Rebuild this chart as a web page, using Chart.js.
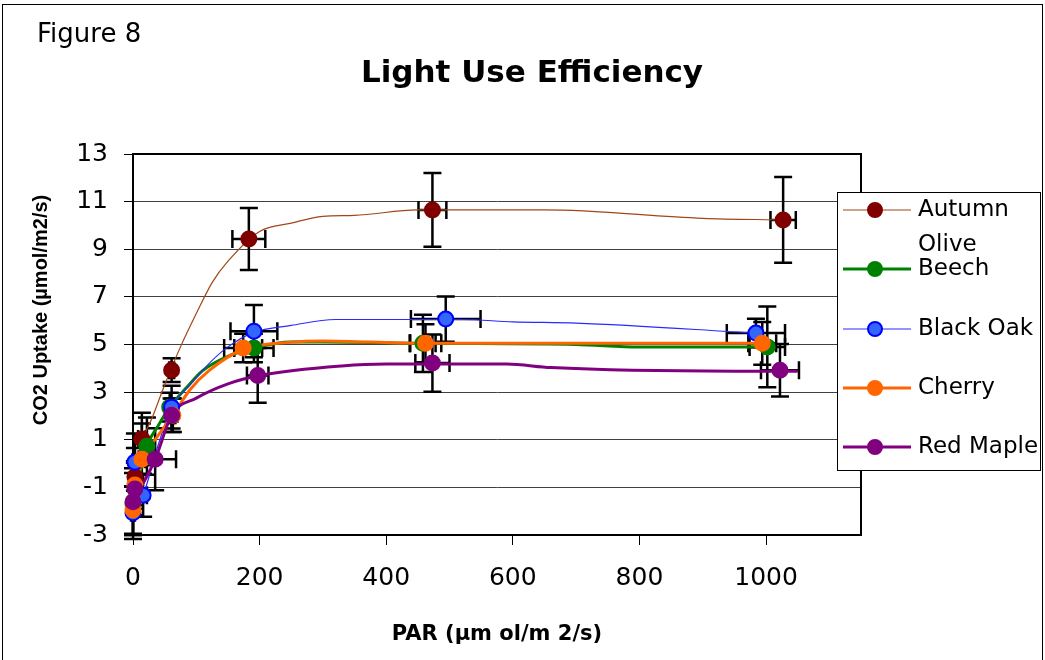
<!DOCTYPE html>
<html>
<head>
<meta charset="utf-8">
<script src="https://cdn.jsdelivr.net/npm/chart.js@4.4.1/dist/chart.umd.min.js"></script>
<style>
  html, body { margin: 0; padding: 0; background: #fff; }
  canvas { display: block; }
</style>
</head>
<body>
<canvas id="lueChart" width="1045" height="660"></canvas>
<script>
// tick values
const parTicks = [0, 200, 400, 600, 800, 1000];
const co2Ticks = [-3, -1, 1, 3, 5, 7, 9, 11, 13];

// measured points (PAR, CO2 uptake) and their error bars
const autumnPar    = [3, 14, 61, 183, 473, 1027];
const autumnCo2    = [-0.55, 1.03, 3.92, 9.43, 10.65, 10.23];
const autumnParErr = [3, 6, 4, 26, 22, 20];
const autumnCo2Err = [1.2, 1.1, 0.5, 1.3, 1.55, 1.8];

const beechPar    = [0, 22, 58, 191, 458, 1002];
const beechCo2    = [-1.7, 0.73, 2.37, 4.85, 5.05, 4.9];
const beechParErr = [3, 5, 5, 31, 20, 28];
const beechCo2Err = [1.3, 1.2, 0.6, 0.6, 1.2, 1.7];

const oakPar    = [0, 3, 16, 61, 191, 494, 984];
const oakCo2    = [-2.07, 0.06, -1.33, 2.37, 5.56, 6.07, 5.48];
const oakParErr = [3, 4, 6, 4, 37, 55, 46];
const oakCo2Err = [1.1, 1.2, 0.9, 0.9, 1.1, 0.95, 0.6];

const cherryPar    = [0, 3, 14, 63, 174, 462, 994];
const cherryCo2    = [-1.95, -0.9, 0.18, 2.03, 4.85, 5.05, 5.05];
const cherryParErr = [3, 3, 5, 4, 30, 25, 22];
const cherryCo2Err = [1.0, 1.0, 1.5, 0.7, 0.6, 0.8, 0.9];

const maplePar    = [0, 3, 35, 61, 197, 473, 1022];
const mapleCo2    = [-1.6, -1.07, 0.18, 2.03, 3.7, 4.22, 3.92];
const mapleParErr = [3, 4, 33, 4, 17, 27, 30];
const mapleCo2Err = [1.4, 1.1, 1.3, 0.7, 1.15, 1.2, 1.1];

// smoothed response curves
const autumnFitPar = [3, 14, 30, 50, 75, 100, 125, 150, 200, 250, 300, 350, 450, 650, 900, 1027];
const autumnFitCo2 = [-0.55, 0.9, 1.9, 3.3, 4.9, 6.3, 7.6, 8.5, 9.75, 10.1, 10.38, 10.42, 10.65, 10.65, 10.3, 10.23];
const beechFitPar = [0, 22, 40, 58, 85, 110, 150, 191, 250, 300, 450, 700, 800, 1002];
const beechFitCo2 = [-1.7, 0.73, 1.6, 2.37, 3.2, 3.9, 4.5, 4.85, 5.1, 5.1, 5.05, 5.0, 4.9, 4.9];
const oakFitPar = [0, 16, 40, 61, 90, 120, 150, 190, 250, 320, 520, 600, 700, 984];
const oakFitCo2 = [-2.07, -1.33, 0.8, 2.37, 3.3, 4.2, 4.9, 5.5, 5.8, 6.05, 6.05, 5.95, 5.9, 5.48];
const cherryFitPar = [0, 14, 35, 63, 90, 120, 174, 250, 300, 450, 994];
const cherryFitCo2 = [-1.95, 0.18, 1.0, 2.03, 3.1, 3.9, 4.8, 5.1, 5.15, 5.05, 5.05];
const mapleFitPar = [0, 35, 61, 100, 150, 200, 330, 400, 590, 660, 950, 1050];
const mapleFitCo2 = [-1.6, 0.18, 2.03, 2.75, 3.35, 3.7, 4.1, 4.18, 4.18, 4.03, 3.88, 3.88];

const species = [
  { name: 'Autumn Olive', par: autumnPar, co2: autumnCo2, errX: autumnParErr, errY: autumnCo2Err, fitX: autumnFitPar, fitY: autumnFitCo2,
    fill: '#800000', edge: '#800000', line: '#a0461a', lw: 1.2 },
  { name: 'Beech', par: beechPar, co2: beechCo2, errX: beechParErr, errY: beechCo2Err, fitX: beechFitPar, fitY: beechFitCo2,
    fill: '#008000', edge: '#008000', line: '#008000', lw: 3 },
  { name: 'Black Oak', par: oakPar, co2: oakCo2, errX: oakParErr, errY: oakCo2Err, fitX: oakFitPar, fitY: oakFitCo2,
    fill: '#3366ff', edge: '#0000ff', line: '#2a2aff', lw: 1.2 },
  { name: 'Cherry', par: cherryPar, co2: cherryCo2, errX: cherryParErr, errY: cherryCo2Err, fitX: cherryFitPar, fitY: cherryFitCo2,
    fill: '#ff6600', edge: '#ff6600', line: '#ff6600', lw: 3 },
  { name: 'Red Maple', par: maplePar, co2: mapleCo2, errX: mapleParErr, errY: mapleCo2Err, fitX: mapleFitPar, fitY: mapleFitCo2,
    fill: '#800080', edge: '#800080', line: '#800080', lw: 3 }
];

const datasets = [];
species.forEach((s, i) => {
  datasets.push({
    label: s.name + ' fit',
    data: s.fitX.map((x, j) => ({ x: x, y: s.fitY[j] })),
    showLine: true,
    borderColor: s.line,
    borderWidth: s.lw,
    pointRadius: 0,
    cubicInterpolationMode: 'monotone',
    clip: false,
    order: 20 - i
  });
  datasets.push({
    label: s.name,
    data: s.par.map((x, j) => ({ x: x, y: s.co2[j] })),
    errX: s.errX,
    errY: s.errY,
    pointRadius: 7.5,
    pointBackgroundColor: s.fill,
    pointBorderColor: s.edge,
    pointBorderWidth: 2,
    clip: false,
    order: 5 - i
  });
});

const CAP = 9;
const decor = {
  id: 'decor',
  beforeDatasetsDraw(chart) {
    const ctx = chart.ctx, a = chart.chartArea;
    const xs = chart.scales.x, ys = chart.scales.y;
    ctx.save();
    // plot frame
    ctx.strokeStyle = '#000';
    ctx.lineWidth = 2;
    ctx.strokeRect(a.left, a.top, a.right - a.left, a.bottom - a.top);
    // error bars
    ctx.lineWidth = 2.5;
    chart.data.datasets.forEach(ds => {
      if (!ds.errX) return;
      ds.data.forEach((p, i) => {
        const px = xs.getPixelForValue(p.x), py = ys.getPixelForValue(p.y);
        const y1 = ys.getPixelForValue(p.y - ds.errY[i]), y2 = ys.getPixelForValue(p.y + ds.errY[i]);
        const x1 = xs.getPixelForValue(p.x - ds.errX[i]), x2 = xs.getPixelForValue(p.x + ds.errX[i]);
        ctx.beginPath();
        ctx.moveTo(px, y1); ctx.lineTo(px, y2);
        ctx.moveTo(px - CAP, y1); ctx.lineTo(px + CAP, y1);
        ctx.moveTo(px - CAP, y2); ctx.lineTo(px + CAP, y2);
        ctx.moveTo(x1, py); ctx.lineTo(x2, py);
        ctx.moveTo(x1, py - CAP); ctx.lineTo(x1, py + CAP);
        ctx.moveTo(x2, py - CAP); ctx.lineTo(x2, py + CAP);
        ctx.stroke();
      });
    });
    ctx.restore();
  },
  afterDraw(chart) {
    const ctx = chart.ctx;
    ctx.save();
    // outer frame
    ctx.strokeStyle = '#000';
    ctx.lineWidth = 1;
    ctx.strokeRect(2.5, 4.5, 1040, 700);

    ctx.fillStyle = '#000';
    ctx.textBaseline = 'middle';
    ctx.textAlign = 'left';
    ctx.font = '26px "DejaVu Sans"';
    ctx.fillText('Figure 8', 37, 35);

    ctx.textAlign = 'center';
    ctx.font = 'bold 31px "DejaVu Sans"';
    ctx.fillText('Light Use Efficiency', 532, 74);

    ctx.font = 'bold 21px "DejaVu Sans"';
    ctx.fillText('PAR (\u00b5m ol/m 2/s)', 497, 635);

    ctx.save();
    ctx.translate(41, 310);
    ctx.rotate(-Math.PI / 2);
    ctx.font = 'bold 20px "Liberation Sans"';
    ctx.fillText('CO2 Uptake (\u00b5mol/m2/s)', 0, 0);
    ctx.restore();

    // legend
    ctx.fillStyle = '#fff';
    ctx.fillRect(837, 192, 204, 279);
    ctx.strokeStyle = '#000';
    ctx.lineWidth = 1;
    ctx.strokeRect(837.5, 192.5, 203, 278);
    const rows = [210, 269, 329, 388, 447];
    species.forEach((s, i) => {
      const y = rows[i];
      ctx.strokeStyle = s.line;
      ctx.lineWidth = s.lw;
      ctx.beginPath();
      ctx.moveTo(843, y); ctx.lineTo(911, y);
      ctx.stroke();
      ctx.beginPath();
      ctx.arc(875, y, 7, 0, Math.PI * 2);
      ctx.fillStyle = s.fill;
      ctx.fill();
      ctx.strokeStyle = s.edge;
      ctx.lineWidth = 2;
      ctx.stroke();
      ctx.fillStyle = '#000';
      ctx.textAlign = 'left';
      ctx.font = '23px "DejaVu Sans"';
      if (i === 0) {
        ctx.fillText('Autumn', 918, y);
        ctx.fillText('Olive', 918, y + 35);
      } else {
        ctx.fillText(s.name, 918, y);
      }
    });
    ctx.restore();
  }
};

new Chart(document.getElementById('lueChart'), {
  type: 'scatter',
  data: { datasets: datasets },
  options: {
    responsive: false,
    animation: false,
    devicePixelRatio: 1,
    layout: { padding: { top: 154, right: 184, bottom: 0, left: 0 } },
    plugins: {
      legend: { display: false },
      title: { display: false },
      tooltip: { enabled: false }
    },
    scales: {
      x: {
        type: 'linear',
        min: 0,
        max: 1150,
        afterBuildTicks: s => { s.ticks = parTicks.map(v => ({ value: v })); },
        afterFit: s => { s.height = 125; },
        grid: { drawOnChartArea: false, tickLength: 10, tickColor: '#000', tickWidth: 1 },
        border: { color: '#000', width: 2 },
        ticks: { color: '#000', font: { family: 'DejaVu Sans', size: 25 }, padding: 18, maxRotation: 0, autoSkip: false,
                 callback: v => String(v) }
      },
      y: {
        type: 'linear',
        min: -3,
        max: 13,
        afterBuildTicks: s => { s.ticks = co2Ticks.map(v => ({ value: v })); },
        afterFit: s => { s.width = 133; },
        grid: { color: '#404040', lineWidth: 1, tickLength: 9, tickColor: '#000', tickWidth: 1 },
        border: { color: '#000', width: 2 },
        ticks: { color: '#000', font: { family: 'DejaVu Sans', size: 25 }, padding: 16, autoSkip: false,
                 callback: v => String(v) }
      }
    }
  },
  plugins: [decor]
});
</script>
</body>
</html>
